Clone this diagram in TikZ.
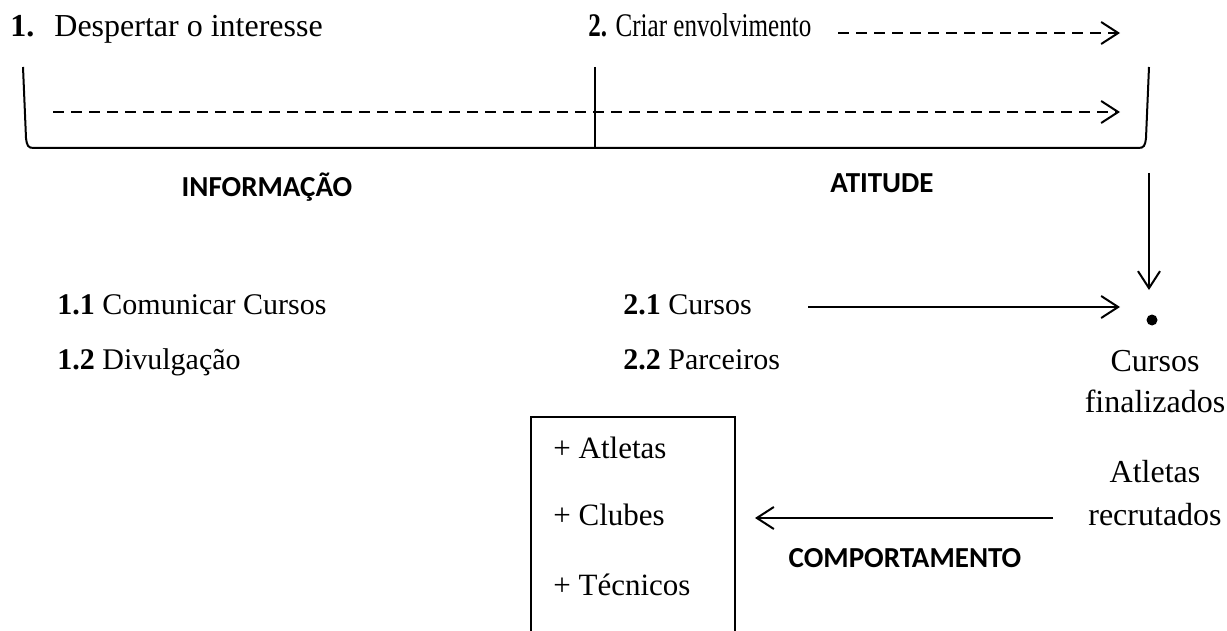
\documentclass[tikz,border=0pt]{standalone}
\usepackage{fontspec}
\usepackage{graphicx}
\setmainfont{Liberation Serif}
\newfontfamily\calib{Carlito}
\usetikzlibrary{arrows.meta}
\begin{document}
\begin{tikzpicture}[x=0.5pt,y=-0.5pt,
  txt/.style={font=\fontsize{15}{18}\selectfont, inner sep=0pt, anchor=base west},
  btxt/.style={font=\fontsize{15.5}{18}\selectfont, inner sep=0pt, anchor=base west},
  ctxt/.style={font=\fontsize{16}{18}\selectfont, inner sep=0pt, anchor=base},
  lbl/.style={font=\calib\bfseries\fontsize{14.5}{17}\selectfont, inner sep=0pt, anchor=base},
  ln/.style={line width=1pt},
  dln/.style={line width=1.3pt},
  tipr/.style={-{Straight Barb[length=8.5pt,width=11pt,line width=1pt]}},
  dsh/.style={dash pattern=on 5.5pt off 3.5pt}]
\useasboundingbox (0,0) rectangle (1227,631);
% headings
\node[txt,font=\fontsize{16}{18}\selectfont] (h1) at (10,37) {\textbf{1.}\hspace{10pt}Despertar o interesse};
\node[txt,font=\fontsize{16.5}{18}\selectfont] (h2) at (588,37) {\scalebox{0.76}[1]{\textbf{2.} Criar envolvimento}};
\coordinate (ts) at (838,33);
\coordinate (te) at (1120,33);
\draw[dln,dsh,tipr] (ts) -- (te);
% bracket
\coordinate (bl) at (23,67);
\coordinate (bl2) at (26,138);
\coordinate (bl3) at (34,148);
\coordinate (br) at (1149,67);
\coordinate (br2) at (1146,138);
\coordinate (br3) at (1138,148);
\coordinate (bm) at (595,67);
\coordinate (bmb) at (595,148);
\draw[ln] (bl) -- (bl2) .. controls (27,146) and (28,148) .. (bl3)
  -- (br3) .. controls (1144,148) and (1145,146) .. (br2) -- (br);
\draw[ln] (bm) -- (bmb);
\coordinate (ms) at (53,112);
\coordinate (me) at (1120,112);
\draw[dln,dsh,tipr] (ms) -- (me);
\node[lbl] (info) at (267,197) {INFORMAÇÃO};
\node[lbl] (atit) at (882,192) {ATITUDE};
% vertical arrow and dot
\coordinate (vs) at (1149,173);
\coordinate (ve) at (1149,290);
\draw[ln,tipr] (vs) -- (ve);
\node[circle,fill,inner sep=0pt,minimum size=5.5pt] (dot) at (1152,320) {};
% items
\node[txt] (i11) at (57,314) {\textbf{1.1} Comunicar Cursos};
\node[txt] (i12) at (57,369) {\textbf{1.2} Divulgação};
\node[txt] (i21) at (623,314) {\textbf{2.1} Cursos};
\node[txt] (i22) at (623,369) {\textbf{2.2} Parceiros};
\coordinate (cs) at (808,307);
\coordinate (ce) at (1120,307);
\draw[ln,tipr] (cs) -- (ce);
\node[ctxt] (cf1) at (1155,371) {Cursos};
\node[ctxt] (cf2) at (1155,412) {finalizados};
\node[ctxt] (ar1) at (1155,482) {Atletas};
\node[ctxt] (ar2) at (1155,525) {recrutados};
% box
\coordinate (bxl) at (531,640);
\coordinate (bxr) at (735,640);
\draw[ln] (bxl) |- (735,417) -- (bxr);
\node[btxt] (b1) at (553,458) {+ Atletas};
\node[btxt] (b2) at (553,525) {+ Clubes};
\node[btxt] (b3) at (553,595) {+ Técnicos};
\coordinate (ls) at (1053,518);
\coordinate (le) at (755,518);
\draw[ln,tipr] (ls) -- (le);
\node[lbl] (comp) at (905,567) {COMPORTAMENTO};
\end{tikzpicture}
\end{document}
